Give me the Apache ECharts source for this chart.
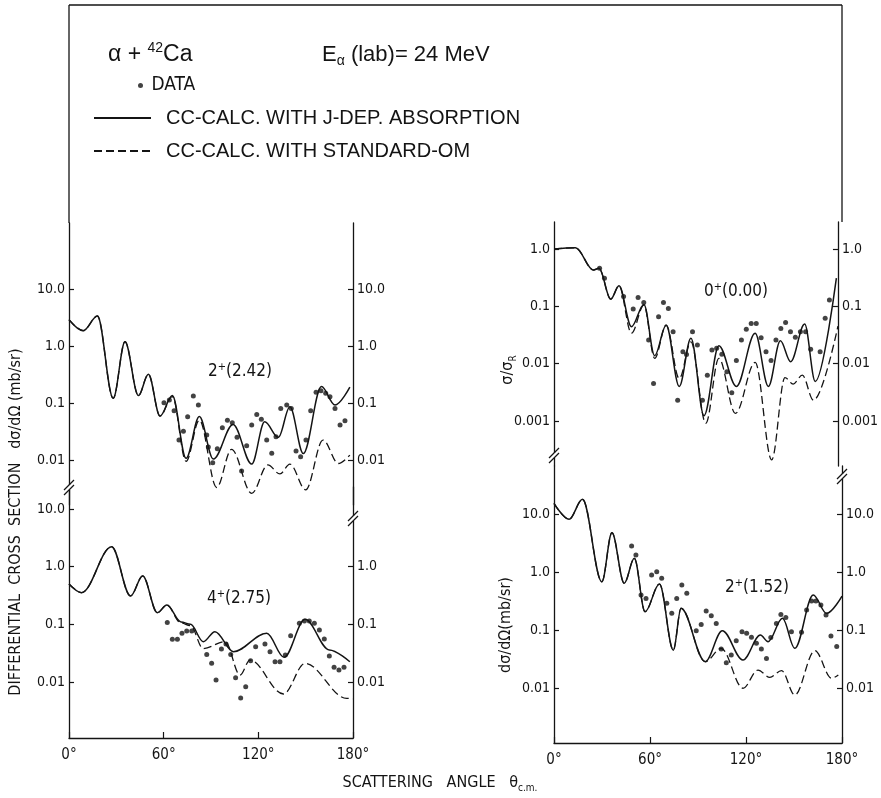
<!DOCTYPE html>
<html>
<head>
<meta charset="utf-8">
<title>alpha + 42Ca, E(lab) = 24 MeV</title>
<script src="https://cdn.jsdelivr.net/npm/echarts@6/dist/echarts.min.js"></script>
<style>
  html, body { margin: 0; padding: 0; background: #ffffff; }
  #chart { width: 881px; height: 798px; }
</style>
</head>
<body>
<div id="chart"></div>
<script>
// ---- measured angular distributions: [theta_cm (deg), value] ----

// 2+ (2.42 MeV), d sigma / d Omega (mb/sr)
const fit242Jdep = [[0,2.9],[9,1.86],[18,3.36],[28,0.121],[35.5,1.19],[44,0.135],[50.3,0.32],[57.7,0.059],[65.5,0.135],[74.2,0.0107],[82.6,0.058],[91.5,0.0104],[104,0.042],[115.8,0.0085],[124,0.047],[132.7,0.025],[140,0.086],[148.5,0.013],[160,0.194],[168.6,0.092],[178,0.19]];
const fit242Std = [[0,2.9],[9,1.86],[18,3.36],[28,0.121],[35.5,1.19],[44,0.135],[50.3,0.32],[57.7,0.059],[65.5,0.13],[74.2,0.0095],[82.6,0.05],[93.6,0.0033],[103,0.0154],[115.8,0.0026],[126,0.0082],[133.7,0.0057],[140,0.0085],[150,0.0030],[161,0.0224],[170.7,0.0087],[178,0.0122]];
const data242 = [[60.2,0.101],[63.6,0.113],[66.6,0.073],[69.7,0.0224],[72.5,0.032],[75.2,0.0575],[78.8,0.133],[82,0.092],[87.3,0.0275],[88.3,0.017],[91.1,0.009],[94,0.0158],[97.2,0.037],[100.4,0.050],[103.5,0.045],[106.5,0.025],[109.4,0.0064],[112.6,0.0178],[115.8,0.041],[119,0.063],[121.9,0.052],[125.3,0.0224],[128.5,0.0131],[131.2,0.0256],[134.2,0.080],[138,0.092],[140.9,0.080],[143.9,0.0144],[146.8,0.0114],[150.2,0.0224],[153.2,0.073],[156.6,0.154],[159.7,0.164],[162.7,0.148],[165.4,0.129],[168.6,0.080],[171.8,0.041],[174.9,0.049]];

// 4+ (2.75 MeV), d sigma / d Omega (mb/sr)
const fit275Jdep = [[0,0.50],[8,0.354],[27,2.22],[39,0.31],[46.7,0.69],[56,0.159],[62,0.216],[71,0.11],[77,0.1],[85.1,0.050],[92.5,0.0746],[104.2,0.0336],[125.3,0.070],[136.3,0.0268],[149.6,0.122],[165,0.036],[178,0.0225]];
const fit275Std = [[0,0.50],[8,0.354],[27,2.22],[39,0.31],[46.7,0.69],[56,0.159],[62,0.216],[71,0.105],[77,0.095],[85,0.038],[99,0.050],[108.4,0.0132],[114.7,0.024],[135.9,0.0062],[149.6,0.021],[176,0.0052],[180,0.0051]];
const data275 = [[62.3,0.107],[65.5,0.055],[68.7,0.055],[71.6,0.070],[74.6,0.0766],[77.8,0.0766],[87.3,0.030],[90.4,0.0211],[93.2,0.0108],[96.6,0.0373],[99.5,0.0456],[102.5,0.030],[105.6,0.0119],[108.8,0.0053],[112,0.0083],[115.1,0.0234],[118.3,0.041],[124.2,0.0456],[127.4,0.0336],[130.6,0.0225],[133.7,0.0225],[137.1,0.0294],[140.5,0.0636],[146,0.104],[149.2,0.114],[152.3,0.114],[155.5,0.104],[158.7,0.080],[161.8,0.0557],[165,0.0282],[168,0.018],[171.1,0.0161],[174.3,0.018]];

// 0+ (0.00 MeV), sigma / sigma_Rutherford
const fit000Jdep = [[0,1.0],[13.6,1.05],[25,0.43],[28.5,0.46],[36,0.134],[41.2,0.229],[49.1,0.0442],[57,0.108],[63.8,0.0138],[71.1,0.047],[79.4,0.0040],[86.8,0.0277],[95.1,0.00124],[104.5,0.0206],[115.6,0.0040],[127.5,0.0338],[135.9,0.0040],[143.5,0.025],[150,0.0108],[158.9,0.049],[165.6,0.0049],[179,0.31]];
const fit000Std = [[0,1.0],[13.6,1.05],[25,0.43],[28.5,0.46],[36,0.134],[41.2,0.229],[49.1,0.034],[57,0.105],[63.8,0.0124],[71.1,0.047],[79.4,0.0055],[86.8,0.024],[96.2,0.00091],[104.5,0.0124],[115,0.00136],[127.5,0.0105],[138,0.00021],[146.4,0.0057],[151.6,0.0044],[157.4,0.0063],[164.5,0.0023],[180,0.045]];
const data000 = [[28.9,0.46],[32,0.31],[44.1,0.148],[50.2,0.090],[53.3,0.142],[56.9,0.117],[60,0.0259],[63.1,0.0045],[66.3,0.066],[69.4,0.117],[72.5,0.092],[75.5,0.036],[78.4,0.0023],[81.7,0.0162],[84,0.0145],[87.8,0.036],[90.9,0.0212],[94.1,0.0023],[97.2,0.0063],[100.1,0.0173],[103.1,0.0185],[106.4,0.0146],[109.6,0.0072],[112.7,0.0031],[115.6,0.0113],[118.8,0.0259],[121.9,0.040],[125,0.050],[128.2,0.050],[131.3,0.0284],[134.4,0.0162],[137.6,0.0113],[140.7,0.0259],[143.8,0.041],[146.8,0.052],[149.9,0.036],[153,0.0288],[156.2,0.036],[159.5,0.036],[162.7,0.0178],[168.7,0.0162],[171.9,0.062],[174.6,0.129]];

// 2+ (1.52 MeV), d sigma / d Omega (mb/sr)
const fit152Jdep = [[0,15.3],[9.4,8.1],[17.8,17.9],[29.9,0.68],[36.2,4.76],[43.9,0.64],[50.2,1.72],[56.9,0.207],[65.9,0.62],[74.6,0.045],[79.4,0.237],[94.5,0.0285],[105.2,0.0975],[118.1,0.0304],[129,0.082],[133.8,0.063],[142.8,0.159],[150.5,0.0483],[162,0.40],[170.4,0.194],[180,0.385]];
const fit152Std = [[0,15.3],[9.4,8.1],[17.8,17.9],[29.9,0.68],[36.2,4.76],[43.9,0.64],[50.2,1.72],[56.9,0.207],[65.9,0.62],[74.6,0.045],[79.4,0.237],[94.5,0.0285],[104.5,0.048],[118.1,0.0099],[127.5,0.0204],[134.9,0.0153],[142.2,0.020],[150.5,0.0076],[163,0.044],[173.5,0.0147],[177.7,0.0168]];
const data152 = [[48.5,2.8],[51.2,1.96],[54.4,0.40],[57.5,0.35],[61,0.89],[64.2,1.01],[67.3,0.78],[70.5,0.29],[73.6,0.194],[76.7,0.35],[79.9,0.60],[83,0.43],[88.9,0.0975],[92,0.125],[95.1,0.213],[98.3,0.177],[101.4,0.130],[104.5,0.047],[107.7,0.0273],[110.8,0.037],[113.9,0.0655],[117.5,0.0935],[120.4,0.0877],[123.4,0.0748],[126.5,0.059],[129.6,0.047],[132.8,0.0324],[135.5,0.074],[139,0.130],[141.8,0.186],[144.9,0.165],[148.4,0.0935],[154.7,0.0912],[157.9,0.221],[161,0.316],[163.7,0.316],[166.8,0.27],[170,0.181],[173.1,0.079],[176.7,0.052]];

// ---- axis tick values ----
const angleTicks = [0, 60, 120, 180];
const decadesCross = [10, 1, 0.1, 0.01];
const decadesCrossLowerRight = [1, 0.1, 0.01];
const decadesElastic = [1, 0.1, 0.01, 0.001];

// ---- text ----
const legendNames = ['DATA', 'CC-CALC. WITH J-DEP. ABSORPTION', 'CC-CALC. WITH STANDARD-OM'];

// ---- styling / layout ----
const INK = '#141414';
const FONT = '"Liberation Sans Narrow", "DejaVu Sans Condensed", "Liberation Sans", sans-serif';
const FONT_WIDE = '"Liberation Sans", Arial, sans-serif';

// panel frames in pixels: [left, top, width, height], log range [min, max]
const panels = [
  { box: [69, 223, 284, 282], range: [0.001626, 143.9], left: decadesCross, right: decadesCross },          // 2+ (2.42)
  { box: [69, 487, 284, 251], range: [0.00107, 24.0], left: decadesCross, right: decadesCrossLowerRight },  // 4+ (2.75)
  { box: [554, 222, 288, 244], range: [0.000164, 2.96], left: decadesElastic, right: decadesElastic },      // 0+ (0.00)
  { box: [554, 466, 288, 277], range: [0.001127, 67.3], left: decadesCross, right: decadesCross }           // 2+ (1.52)
];
const panelSeries = [
  [fit242Jdep, fit242Std, data242],
  [fit275Jdep, fit275Std, data275],
  [fit000Jdep, fit000Std, data000],
  [fit152Jdep, fit152Std, data152]
];
const showAngleAxis = [false, true, false, true];

function fmtDecade(v) {
  return v >= 1 ? v.toFixed(1) : String(+v.toPrecision(2));
}

const grid = panels.map(p => ({ left: p.box[0], top: p.box[1], width: p.box[2], height: p.box[3], containLabel: false }));

const xAxis = panels.map((p, i) => ({
  type: 'value', gridIndex: i, min: 0, max: 180, interval: 60,
  show: showAngleAxis[i],
  axisLine: { show: true, lineStyle: { color: INK, width: 1.3 } },
  axisTick: { show: true, inside: true, length: 6, lineStyle: { color: INK, width: 1.2 } },
  axisLabel: {
    show: true, margin: 10, color: INK, fontFamily: FONT, fontSize: 15,
    customValues: angleTicks, formatter: v => v + '°'
  },
  splitLine: { show: false }
}));

function decadeAxis(gridIndex, position, range, labels) {
  return {
    type: 'log', logBase: 10, gridIndex, position,
    min: range[0], max: range[1],
    axisLine: { show: true, onZero: false, lineStyle: { color: INK, width: 1.3 } },
    axisTick: { show: true, inside: true, length: 5, customValues: labels, lineStyle: { color: INK, width: 1.2 } },
    axisLabel: { show: true, margin: 4, color: INK, fontFamily: FONT, fontSize: 14, customValues: labels, formatter: fmtDecade },
    minorTick: { show: false },
    splitLine: { show: false }
  };
}
const yAxis = [];
panels.forEach((p, i) => {
  yAxis.push(decadeAxis(i, 'left', p.range, p.left));
  yAxis.push(decadeAxis(i, 'right', p.range, p.right));
});

const series = [];
panelSeries.forEach((set, i) => {
  series.push({
    name: legendNames[1], type: 'line', xAxisIndex: i, yAxisIndex: 2 * i,
    data: set[0], smooth: 0.35, smoothMonotone: 'x', symbol: 'none', color: INK,
    lineStyle: { color: INK, width: 1.5 }, z: 3
  });
  series.push({
    name: legendNames[2], type: 'line', xAxisIndex: i, yAxisIndex: 2 * i,
    data: set[1], smooth: 0.35, smoothMonotone: 'x', symbol: 'none', color: INK,
    lineStyle: { color: INK, width: 1.3, type: [8, 4] }, z: 2
  });
  series.push({
    name: legendNames[0], type: 'scatter', xAxisIndex: i, yAxisIndex: 2 * i,
    data: set[2], symbol: 'circle', symbolSize: 5, color: INK,
    itemStyle: { color: INK }, z: 4
  });
});

const legendText = { color: INK, fontFamily: FONT_WIDE, fontSize: 20 };
const legend = [
  { data: [legendNames[0]], left: 138, top: 76, padding: 0, itemWidth: 8, itemHeight: 5, selectedMode: false,
    textStyle: { color: INK, fontFamily: FONT, fontSize: 19, padding: [0, 0, 0, 2] } },
  { data: [legendNames[1]], left: 93, top: 108, padding: 0, itemWidth: 57, itemHeight: 14, selectedMode: false,
    itemStyle: { opacity: 0 }, textStyle: Object.assign({ padding: [0, 0, 0, 10] }, legendText) },
  { data: [legendNames[2]], left: 93, top: 141, padding: 0, itemWidth: 57, itemHeight: 14, selectedMode: false,
    itemStyle: { opacity: 0 }, textStyle: Object.assign({ padding: [0, 0, 0, 10] }, legendText) }
];

// decorations: outer frame, axis breaks, annotations
const lineStyle = { stroke: INK, lineWidth: 1.3 };
function seg(x1, y1, x2, y2) {
  return { type: 'line', z: 100, shape: { x1, y1, x2, y2 }, style: lineStyle, silent: true };
}
function axisBreak(cx, cy) {
  return [
    { type: 'rect', z: 99, shape: { x: cx - 2, y: cy - 2, width: 4, height: 5 }, style: { fill: '#fff' }, silent: true },
    seg(cx - 5, cy + 3, cx + 5, cy - 7),
    seg(cx - 5, cy + 8, cx + 5, cy - 2)
  ];
}
function txt(x, y, text, rich, opts) {
  return {
    type: 'text', z: 100, x, y, silent: true,
    style: Object.assign({ text, rich, fill: INK, fontFamily: FONT, align: 'left', verticalAlign: 'middle' }, opts || {})
  };
}
const baseRich = (size, family) => ({
  t: { fontFamily: family || FONT, fontSize: size, fill: INK, lineHeight: size + 4, verticalAlign: 'middle' },
  sup: { fontFamily: family || FONT, fontSize: Math.round(size * 0.62), fill: INK, lineHeight: Math.round(size * 0.62), verticalAlign: 'top' },
  sub: { fontFamily: family || FONT, fontSize: Math.round(size * 0.62), fill: INK, lineHeight: Math.round(size * 0.62), verticalAlign: 'bottom' }
});

const graphic = [
  seg(69, 5, 842, 5),
  seg(69, 5, 69, 223),
  seg(842, 5, 842, 222),
  ...axisBreak(69, 487),
  ...axisBreak(353, 518),
  ...axisBreak(554, 455),
  ...axisBreak(842, 476),
  txt(108, 55, '{t|α + }{sup|42}{t|Ca}', baseRich(23, FONT_WIDE)),
  txt(322, 55, '{t|E}{sub|α}{t| (lab)= 24 MeV}', baseRich(22, FONT_WIDE)),
  txt(208, 372, '{t|2}{sup|+}{t|(2.42)}', baseRich(17)),
  txt(207, 599, '{t|4}{sup|+}{t|(2.75)}', baseRich(17)),
  txt(704, 292, '{t|0}{sup|+}{t|(0.00)}', baseRich(17)),
  txt(725, 588, '{t|2}{sup|+}{t|(1.52)}', baseRich(17)),
  Object.assign(txt(16, 522, '{t|DIFFERENTIAL  CROSS  SECTION   dσ/dΩ (mb/sr)}', baseRich(16), { align: 'center' }), { rotation: Math.PI / 2 }),
  Object.assign(txt(508, 370, '{t|σ/σ}{sub|R}', baseRich(16), { align: 'center' }), { rotation: Math.PI / 2 }),
  Object.assign(txt(506, 625, '{t|dσ/dΩ(mb/sr)}', baseRich(16), { align: 'center' }), { rotation: Math.PI / 2 }),
  txt(440, 783, '{t|SCATTERING   ANGLE   θ}{sub|c.m.}', baseRich(16), { align: 'center' })
];

const chart = echarts.init(document.getElementById('chart'), null, { renderer: 'canvas' });
chart.setOption({
  backgroundColor: '#ffffff',
  animation: false,
  textStyle: { fontFamily: FONT, color: INK },
  legend,
  grid,
  xAxis,
  yAxis,
  series,
  graphic
});
</script>
</body>
</html>
